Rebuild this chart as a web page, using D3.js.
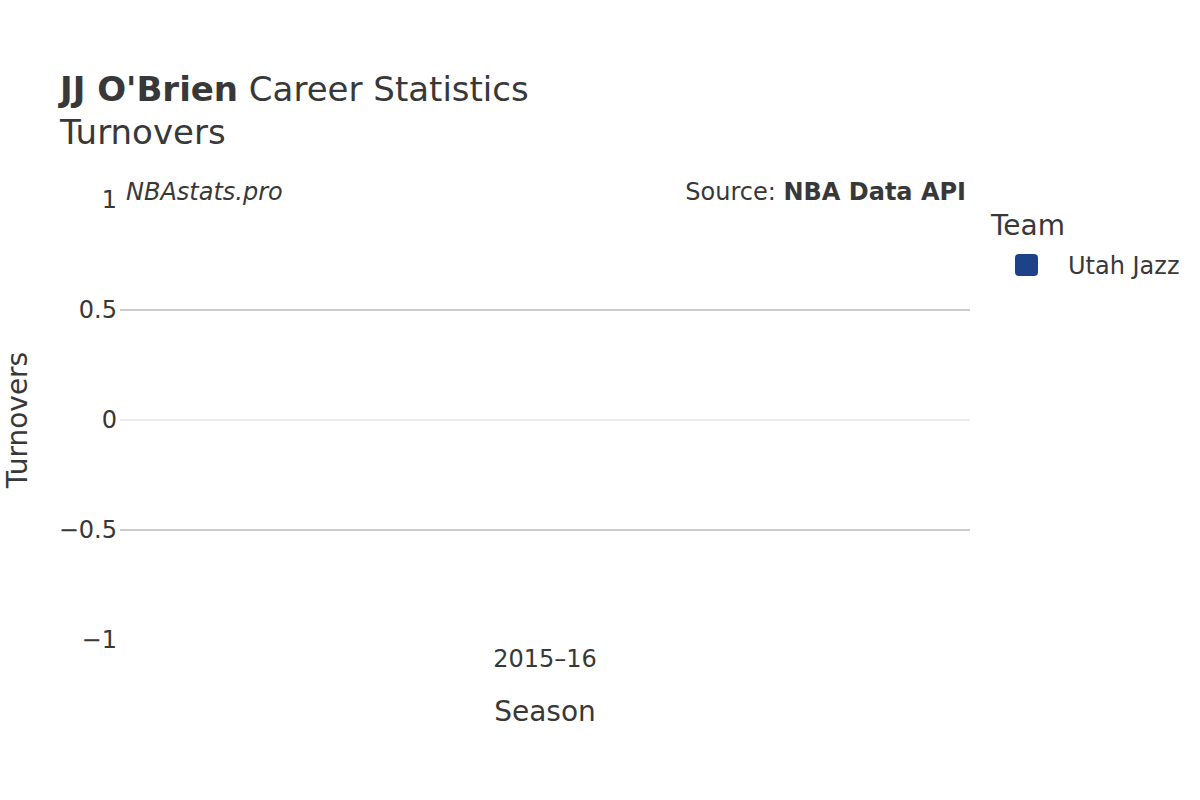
<!DOCTYPE html>
<html>
<head>
<meta charset="utf-8">
<script src="https://cdn.jsdelivr.net/npm/d3@7"></script>
<style>
  body { margin: 0; background: #fff; }
  text { font-family: "DejaVu Sans", sans-serif; fill: #383838; }
</style>
</head>
<body>
<svg id="chart"></svg>
<script>
// data
const seasons = ['2015–16'];
const teams = ['Utah Jazz'];
const turnovers = [0];
const teamColors = ['#1d4289'];
const yTicks = [-1, -0.5, 0, 0.5, 1];

const width = 1200;
const height = 800;
const margin = { left: 120, right: 230, top: 200, bottom: 160 };

const svg = d3.select('#chart')
  .attr('width', width)
  .attr('height', height);

// scales
const x = d3.scaleBand()
  .domain(seasons)
  .range([margin.left, width - margin.right])
  .paddingInner(0.2)
  .paddingOuter(0.1);

const y = d3.scaleLinear()
  .domain([-1, 1])
  .range([height - margin.bottom, margin.top]);

const fmt = v => d3.format('')(v).replace('-', '\u2212');

// grid (no lines at the range ends)
svg.append('g')
  .selectAll('line')
  .data(yTicks.filter(t => t !== 0 && Math.abs(t) !== 1))
  .enter()
  .append('line')
  .attr('x1', margin.left)
  .attr('x2', width - margin.right)
  .attr('y1', d => y(d))
  .attr('y2', d => y(d))
  .attr('stroke', '#bdbdbd')
  .attr('stroke-width', 1.5);

// zero line
svg.append('line')
  .attr('x1', margin.left)
  .attr('x2', width - margin.right)
  .attr('y1', y(0))
  .attr('y2', y(0))
  .attr('stroke', '#ebebeb')
  .attr('stroke-width', 2);

// y axis
const yAxis = d3.axisLeft(y)
  .tickValues(yTicks)
  .tickSize(0)
  .tickPadding(3)
  .tickFormat(fmt);

const yg = svg.append('g')
  .attr('transform', `translate(${margin.left}, 0)`)
  .call(yAxis);
yg.select('.domain').remove();
yg.selectAll('text')
  .style('font-size', '24px')
  .attr('fill', '#383838');

// x axis
const xAxis = d3.axisBottom(x).tickSize(0).tickPadding(0);
const xg = svg.append('g')
  .attr('transform', `translate(0, ${height - margin.bottom})`)
  .call(xAxis);
xg.select('.domain').remove();
xg.selectAll('text')
  .style('font-size', '24px')
  .attr('fill', '#383838')
  .attr('dy', null)
  .attr('y', 27);

// bars
svg.append('g')
  .selectAll('rect')
  .data(turnovers)
  .enter()
  .append('rect')
  .attr('x', (d, i) => x(seasons[i]))
  .attr('y', d => y(Math.max(0, d)))
  .attr('width', x.bandwidth())
  .attr('height', d => Math.abs(y(d) - y(0)))
  .attr('fill', teamColors[0])
  .attr('stroke', 'rgba(255,255,255,0.5)')
  .attr('stroke-width', 1);

// titles
const title = svg.append('text')
  .attr('x', 60)
  .attr('y', 101)
  .style('font-size', '34px');
title.append('tspan').attr('font-weight', 'bold').text("JJ O'Brien");
title.append('tspan').text(' Career Statistics');

svg.append('text')
  .attr('x', 60)
  .attr('y', 144)
  .style('font-size', '34px')
  .text('Turnovers');

svg.append('text')
  .attr('x', 126)
  .attr('y', 200)
  .style('font-size', '24px')
  .style('font-style', 'italic')
  .text('NBAstats.pro');

const source = svg.append('text')
  .attr('x', 966)
  .attr('y', 200)
  .attr('text-anchor', 'end')
  .style('font-size', '24px');
source.append('tspan').text('Source: ');
source.append('tspan').attr('font-weight', 'bold').text('NBA Data API');

// axis titles
svg.append('text')
  .attr('x', (margin.left + width - margin.right) / 2)
  .attr('y', 721)
  .attr('text-anchor', 'middle')
  .style('font-size', '28px')
  .text('Season');

svg.append('text')
  .attr('transform', `translate(27, ${y(0)}) rotate(-90)`)
  .attr('text-anchor', 'middle')
  .style('font-size', '28px')
  .text('Turnovers');

// legend
const legend = svg.append('g').attr('transform', 'translate(991, 0)');
legend.append('text')
  .attr('x', 0)
  .attr('y', 235)
  .style('font-size', '28px')
  .text('Team');

const item = legend.selectAll('g.item')
  .data(teams)
  .enter()
  .append('g')
  .attr('class', 'item')
  .attr('transform', (d, i) => `translate(0, ${i * 38})`);
item.append('rect')
  .attr('x', 24)
  .attr('y', 254)
  .attr('width', 23)
  .attr('height', 22)
  .attr('rx', 4)
  .attr('fill', (d, i) => teamColors[i]);
item.append('text')
  .attr('x', 77)
  .attr('y', 274)
  .style('font-size', '24px')
  .text(d => d);
</script>
</body>
</html>
